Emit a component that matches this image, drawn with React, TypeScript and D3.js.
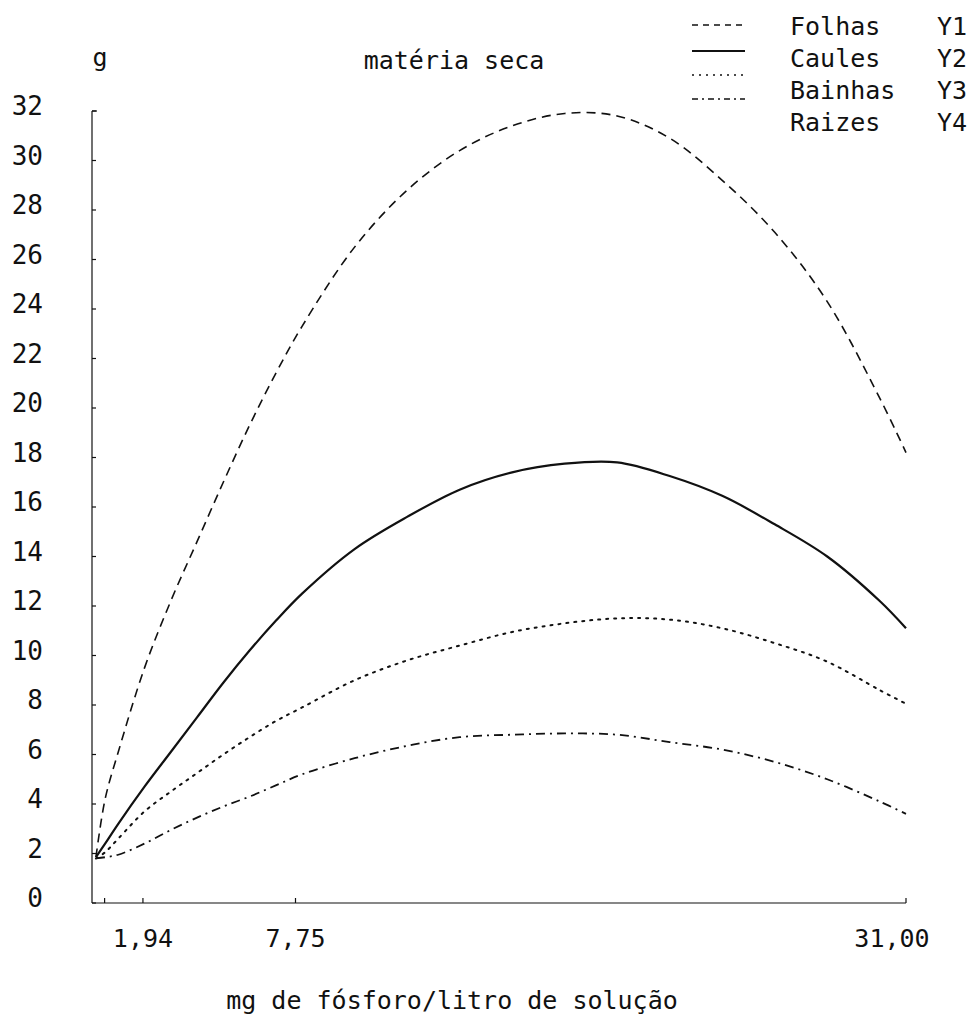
import React from 'react';
import * as d3 from 'd3';

// doses de fósforo (mg/l) onde as curvas foram lidas
const doses = [0.15, 0.5, 1, 2, 3, 4, 5, 6, 7, 8, 10, 12, 14, 16, 18, 20, 22, 24, 26, 28, 30, 31];

const folhas = [1.85, 4.2, 6.1, 9.5, 12.2, 14.6, 17.0, 19.3, 21.4, 23.3, 26.5, 28.8, 30.4, 31.4, 31.9, 31.8, 30.9, 29.2, 27.1, 24.3, 20.4, 18.2];
const caules = [1.85, 2.4, 3.2, 4.7, 6.1, 7.5, 8.9, 10.2, 11.4, 12.5, 14.3, 15.6, 16.7, 17.4, 17.75, 17.8, 17.25, 16.45, 15.3, 14.0, 12.2, 11.1];
const bainhas = [1.8, 2.05, 2.6, 3.7, 4.5, 5.25, 6.0, 6.7, 7.35, 7.9, 9.0, 9.8, 10.4, 10.95, 11.3, 11.5, 11.45, 11.1, 10.5, 9.75, 8.6, 8.05];
const raizes = [1.8, 1.85, 1.95, 2.4, 2.95, 3.45, 3.9, 4.3, 4.75, 5.2, 5.85, 6.35, 6.7, 6.8, 6.85, 6.8, 6.5, 6.2, 5.7, 5.0, 4.1, 3.6];

const seriesNames = ['Folhas', 'Caules', 'Bainhas', 'Raizes'];
const seriesCodes = ['Y1', 'Y2', 'Y3', 'Y4'];

const yTicks = [0, 2, 4, 6, 8, 10, 12, 14, 16, 18, 20, 22, 24, 26, 28, 30, 32];
const xTicks = [0.48, 1.94, 7.75, 31];
const xTickLabels = ['', '1,94', '7,75', '31,00'];

const FONT = '"DejaVu Sans Mono", "Liberation Mono", monospace';
const INK = '#111';

const styles = [
    {dash: '9,6', width: 1.6},
    {dash: null, width: 2.2},
    {dash: '2,6', width: 2},
    {dash: '9,5,2,5', width: 1.8},
];

export default function App() {
    const width = 972, height = 1019;

    const x = d3.scaleLinear().domain([0, 31]).range([92, 906]);
    const y = d3.scaleLinear().domain([0, 32]).range([903, 111]);

    const line = d3.line<number>()
        .x((d, i) => x(doses[i]))
        .y(d => y(d))
        .curve(d3.curveCatmullRom.alpha(0.5));

    const series = [folhas, caules, bainhas, raizes];

    // legenda
    const legendLineY = [25, 51, 75, 99];
    const legendTextY = [26, 58, 90, 122];

    return (
        <svg width={width} height={height}
            style={{position: 'absolute', left: 0, top: 0, background: '#fff'}}
            fontFamily={FONT} fill={INK}>
            {/* eixo y */}
            <line x1={x(0)} x2={x(0)} y1={y(0)} y2={y(32)} stroke={INK} strokeWidth={1.2}/>
            <line x1={x(0)} x2={x(0) + 5} y1={y(32)} y2={y(32)} stroke={INK} strokeWidth={1.2}/>
            {yTicks.map(t => (
                <g key={t}>
                    <line x1={x(0)} x2={x(0) + 4} y1={y(t)} y2={y(t)} stroke={INK} strokeWidth={1.2}/>
                    <text x={43} y={y(t) - 5} textAnchor="end" dominantBaseline="central"
                        fontSize={26}>{t}</text>
                </g>
            ))}

            {/* eixo x */}
            <line x1={x(0)} x2={x(31)} y1={y(0)} y2={y(0)} stroke={INK} strokeWidth={1.2}/>
            {xTicks.map((t, i) => (
                <g key={t}>
                    <line x1={x(t)} x2={x(t)} y1={y(0)} y2={y(0) - 5} stroke={INK} strokeWidth={1.2}/>
                    <text x={i === xTicks.length - 1 ? x(t) - 14 : x(t)} y={938}
                        textAnchor="middle" dominantBaseline="central"
                        fontSize={25}>{xTickLabels[i]}</text>
                </g>
            ))}

            {/* curvas */}
            {series.map((s, i) => (
                <path key={seriesNames[i]} d={line(s) || ''} fill="none" stroke={INK}
                    strokeWidth={styles[i].width}
                    strokeDasharray={styles[i].dash || undefined}
                    strokeLinecap={i === 2 ? 'round' : 'butt'}/>
            ))}

            {/* títulos */}
            <text x={100} y={57} textAnchor="middle" dominantBaseline="central" fontSize={25}>g</text>
            <text x={454} y={60} textAnchor="middle" dominantBaseline="central" fontSize={25}>matéria seca</text>
            <text x={452} y={1000} textAnchor="middle" dominantBaseline="central" fontSize={25}>
                mg de fósforo/litro de solução
            </text>

            {/* legenda */}
            {seriesNames.map((name, i) => (
                <g key={name}>
                    <line x1={692} x2={745} y1={legendLineY[i]} y2={legendLineY[i]} stroke={INK}
                        strokeWidth={i === 1 ? 1.8 : 1.4}
                        strokeDasharray={i === 0 ? '6,5' : i === 2 ? '2,5' : i === 3 ? '6,4,2,4' : undefined}/>
                    <text x={790} y={legendTextY[i]} dominantBaseline="central" fontSize={25}>{name}</text>
                    <text x={937} y={legendTextY[i]} dominantBaseline="central" fontSize={25}>{seriesCodes[i]}</text>
                </g>
            ))}
        </svg>
    );
}
